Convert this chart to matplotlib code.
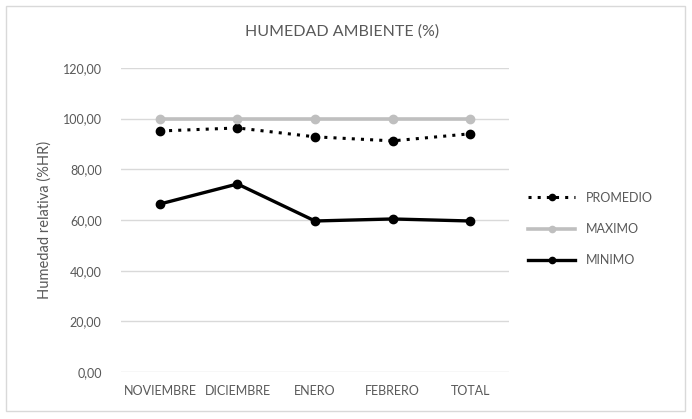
import matplotlib.pyplot as plt
from matplotlib.patches import Rectangle

plt.rcParams['font.family'] = ['Lato', 'DejaVu Sans']

# datos
meses = ["NOVIEMBRE", "DICIEMBRE", "ENERO", "FEBRERO", "TOTAL"]
promedio = [95.1, 96.3, 92.8, 91.2, 94.0]
maximo = [100.0, 100.0, 100.0, 100.0, 100.0]
minimo = [66.3, 74.2, 59.6, 60.4, 59.6]
yticks = [0, 20, 40, 60, 80, 100, 120]

gris_txt = "#595959"

fig = plt.figure(figsize=(6.92, 4.19), dpi=100)
ax = fig.add_axes([0.175, 0.112, 0.5605, 0.726])

x = range(len(meses))
ax.plot(x, promedio, color="black", linestyle=(0, (1, 2)), linewidth=2.2,
        marker="o", markersize=6, label="PROMEDIO")
ax.plot(x, maximo, color="#bfbfbf", linewidth=2.6,
        marker="o", markersize=6, label="MAXIMO")
ax.plot(x, minimo, color="black", linewidth=2.4,
        marker="o", markersize=6, label="MINIMO")

ax.set_xlim(-0.5, len(meses) - 0.5)
ax.set_ylim(0, 120)
ax.set_yticks(yticks)
ax.set_yticklabels([f"{v:.2f}".replace(".", ",") for v in yticks])
ax.set_xticks(list(x))
ax.set_xticklabels(meses)
ax.tick_params(axis="both", length=0, colors=gris_txt, labelsize=9)
ax.tick_params(axis="y", pad=14)
ax.tick_params(axis="x", pad=9)
ax.grid(axis="y", color="#d9d9d9", linewidth=1)
ax.set_axisbelow(True)
for s in ax.spines.values():
    s.set_visible(False)

ax.set_ylabel("Humedad relativa (%HR)", color=gris_txt, fontsize=10.5, labelpad=8)
fig.text(0.495, 0.925, "HUMEDAD AMBIENTE (%)", ha="center", va="center",
         color=gris_txt, fontsize=11.5)

ax.legend(loc="center left", bbox_to_anchor=(1.02, 0.47), frameon=False,
          labelcolor=gris_txt, fontsize=9, handlelength=3.8, labelspacing=1.55,
          markerscale=0.75)

fig.add_artist(Rectangle((0.008, 0.02), 0.982, 0.965, transform=fig.transFigure,
                         fill=False, edgecolor="#d9d9d9", linewidth=1))

fig.savefig("out.png", dpi=100)
